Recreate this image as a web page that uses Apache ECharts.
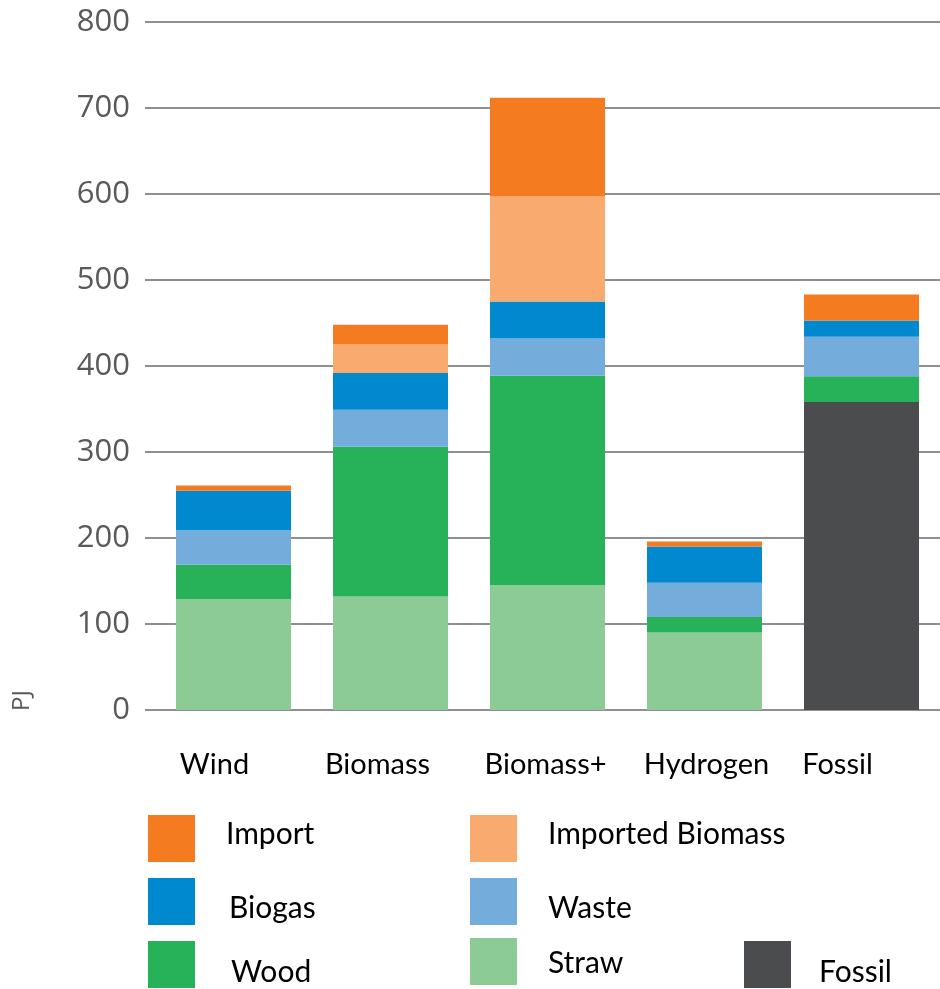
<!DOCTYPE html>
<html>
<head>
<meta charset="utf-8">
<script src="https://cdn.jsdelivr.net/npm/echarts@6/dist/echarts.min.js"></script>
<style>
  html, body { margin: 0; padding: 0; background: #fff; }
  #chart { width: 940px; height: 989px; }
</style>
</head>
<body>
<div id="chart"></div>
<script>
// Energy supply by scenario, PJ
const categories = ['Wind', 'Biomass', 'Biomass+', 'Hydrogen', 'Fossil'];
const yTicks = [0, 100, 200, 300, 400, 500, 600, 700, 800];

// Stacked from the bottom up
const fossil          = [null, null, null, null, 358];
const straw           = [129, 132, 145, 90, null];
const wood            = [40, 174, 244, 18, 30];
const waste           = [40, 43, 43, 40, 46];
const biogas          = [46, 43, 43, 42, 19];
const importedBiomass = [null, 33, 122, null, null];
const importEnergy    = [6, 23, 115, 6, 30];

const seriesDefs = [
  { name: 'Fossil', data: fossil, color: '#4b4c4e' },
  { name: 'Straw', data: straw, color: '#8dcb96' },
  { name: 'Wood', data: wood, color: '#27b25a' },
  { name: 'Waste', data: waste, color: '#74addc' },
  { name: 'Biogas', data: biogas, color: '#0089cf' },
  { name: 'Imported Biomass', data: importedBiomass, color: '#f8aa6f' },
  { name: 'Import', data: importEnergy, color: '#f47b20' }
];

const labelFont = 'Lato, "Open Sans", sans-serif';

// small horizontal nudges for the category captions
const captionShift = { 'Wind': -38, 'Biomass': -26, 'Biomass+': -4, 'Hydrogen': 4, 'Fossil': -48 };
const richCaptions = {};
categories.forEach((c, i) => {
  const s = captionShift[c];
  richCaptions['c' + i] = {
    fontFamily: labelFont, fontSize: 29, color: '#000',
    padding: s < 0 ? [0, -s, 0, 0] : [0, 0, 0, s]
  };
});

// legend entries placed one by one in a 3-column block;
// dx = gap from swatch to text, dy = vertical offset of the text
const legendSpots = [
  { name: 'Import', left: 148, top: 815, dx: 26, dy: -4 },
  { name: 'Imported Biomass', left: 470, top: 815, dx: 26, dy: -4 },
  { name: 'Biogas', left: 148, top: 878, dx: 29, dy: 7 },
  { name: 'Waste', left: 470, top: 878, dx: 26, dy: 7 },
  { name: 'Wood', left: 148, top: 941, dx: 31, dy: 8 },
  { name: 'Straw', left: 470, top: 938, dx: 26, dy: 2 },
  { name: 'Fossil', left: 744, top: 941, dx: 23, dy: 8 }
];

const chart = echarts.init(document.getElementById('chart'), null, { renderer: 'canvas' });
chart.setOption({
  animation: false,
  backgroundColor: '#fff',
  grid: { left: 155, top: 22, width: 787, height: 688, containLabel: false },
  legend: legendSpots.map(l => ({
    data: [l.name],
    left: l.left, top: l.top,
    orient: 'horizontal',
    padding: 0,
    itemWidth: 47, itemHeight: 47,
    icon: 'rect',
    selectedMode: false,
    formatter: (n) => '{t|' + n + '}',
    textStyle: {
      rich: {
        t: {
          fontFamily: labelFont, fontSize: 30, color: '#000',
          padding: l.dy >= 0 ? [2 * l.dy, 0, 0, l.dx] : [0, 0, -2 * l.dy, l.dx]
        }
      }
    }
  })),
  xAxis: {
    type: 'category',
    data: categories,
    axisLine: { show: false },
    axisTick: { show: false },
    axisLabel: {
      margin: 40,
      formatter: (v) => '{c' + categories.indexOf(v) + '|' + v + '}',
      rich: richCaptions
    }
  },
  yAxis: {
    type: 'value',
    min: yTicks[0], max: yTicks[yTicks.length - 1], interval: 100,
    axisLine: { show: false },
    axisTick: { show: true, length: 10, lineStyle: { color: '#8f8f8f', width: 2 } },
    splitLine: { show: true, lineStyle: { color: '#8f8f8f', width: 2 } },
    axisLabel: {
      margin: 25,
      fontFamily: '"Open Sans", sans-serif',
      fontSize: 31,
      color: '#595959'
    }
  },
  graphic: [{
    type: 'text',
    left: 10, top: 690,
    rotation: Math.PI / 2,
    style: { text: 'PJ', font: '24px "Open Sans", sans-serif', fill: '#595959' }
  }],
  series: seriesDefs.map(s => ({
    name: s.name,
    type: 'bar',
    stack: 'total',
    barWidth: 115,
    data: s.data,
    itemStyle: { color: s.color },
    emphasis: { disabled: true }
  }))
});
</script>
</body>
</html>
